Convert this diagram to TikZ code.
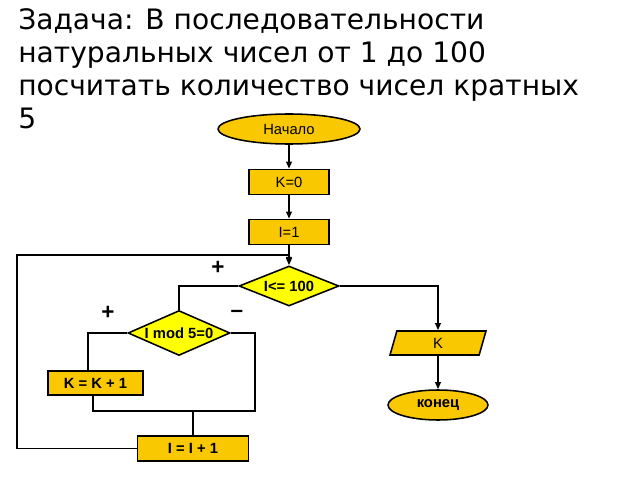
\documentclass[tikz,border=0pt]{standalone}
\usepackage{fontspec}
\setmainfont{Liberation Sans}
\newfontfamily\titlefont{DejaVu Sans}
\usetikzlibrary{shapes.geometric,arrows.meta}
\begin{document}
\begin{tikzpicture}[x=0.025cm,y=-0.025cm,
  every node/.style={font=\fontsize{10.5}{12}\selectfont},
  ln/.style={line width=1.1pt,black},
  ar/.style={ln,-{Triangle[length=5pt,width=4pt]}},
  box/.style={draw,line width=1.1pt,fill=gold,inner sep=0pt},
  bf/.style={font=\fontsize{10.5}{12}\selectfont\bfseries},
  dia/.style={draw,line width=1.1pt,fill=yellow1,diamond,aspect=2.5,inner sep=0pt,bf},
  lbl/.style={font=\fontsize{16}{16}\selectfont\bfseries}]
\definecolor{gold}{RGB}{250,200,0}
\definecolor{yellow1}{RGB}{255,255,0}
\useasboundingbox (0,0) rectangle (640,480);
\node[anchor=north west,align=left,inner sep=0pt,font=\titlefont\fontsize{20}{23.5}\selectfont] (title) at (18,8)
 {Задача: В последовательности\\натуральных чисел от 1 до 100\\посчитать количество чисел кратных\\5};
\node[box,ellipse,minimum width=142*0.025cm,minimum height=30*0.025cm] (start) at (289,129) {Начало};
\node[box,minimum width=80*0.025cm,minimum height=25*0.025cm] (k0) at (289,182) {K=0};
\node[box,minimum width=80*0.025cm,minimum height=25*0.025cm] (i1) at (289,232) {I=1};
\node[dia,minimum width=100*0.025cm,minimum height=40*0.025cm] (d1) at (289,286) {I<= 100};
\node[dia,minimum width=102*0.025cm,minimum height=45*0.025cm] (d2) at (179,333) {I mod 5=0};
\node[box,bf,minimum width=95*0.025cm,minimum height=24*0.025cm] (kk) at (95.5,383) {K = K + 1};
\node[box,bf,minimum width=111*0.025cm,minimum height=25*0.025cm] (ii) at (193,448.5) {I = I + 1};
\node[box,trapezium,trapezium left angle=56,trapezium right angle=124,trapezium stretches body,minimum width=96*0.025cm,minimum height=24*0.025cm] (out) at (438,343) {K};
\node[box,bf,ellipse,minimum width=100*0.025cm,minimum height=30*0.025cm] (end) at (438,405) {конец};
\node[lbl] (p1) at (218,268) {+};
\node[lbl] (p2) at (108,313) {+};
\node[lbl] (m2) at (237,314) {--};
\coordinate (j) at (193,411);
\coordinate (lp) at (289,255);
\draw[ar] (start) -- (k0);
\draw[ar] (k0) -- (i1);
\draw[ar] (i1) -- (d1);
\draw[ar] (ii.west) -| (17,255) -- (lp) -- (289,264);
\draw[ln] (d1.west) -| (d2.north);
\draw[ln] (d2.west) -| (88,371);
\draw[ln] (d2.east) -| (255,411) -- (j);
\draw[ln] (93,395) |- (j) -- (ii.north);
\draw[ar] (d1.east) -| (out.north);
\draw[ar] (out) -- (end);
\end{tikzpicture}
\end{document}
